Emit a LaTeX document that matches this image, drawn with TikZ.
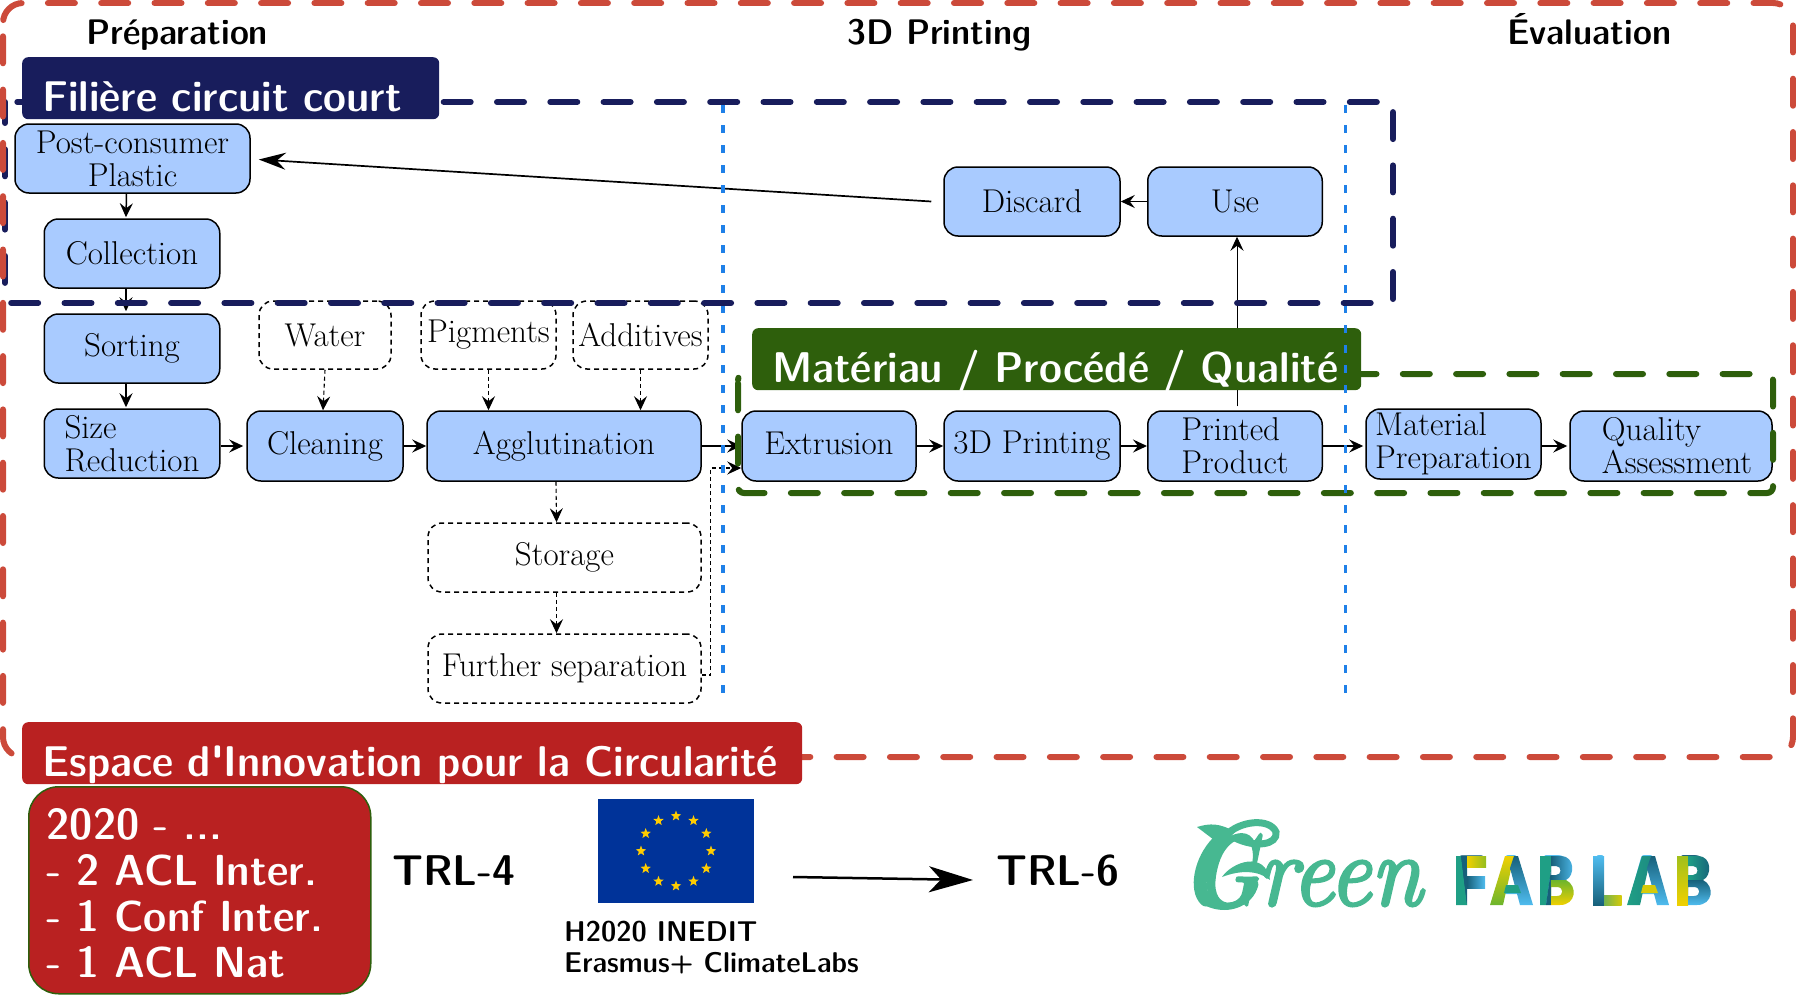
\documentclass[tikz,border=0pt]{standalone}
\usepackage{fontspec}
\setmainfont{Latin Modern Roman}
\setsansfont{Latin Modern Sans}
\newfontfamily\demifont{Latin Modern Sans Demi Cond}[Ligatures=TeXOff, FakeStretch=1.12]
\usepackage{xcolor}
\usetikzlibrary{shapes, shapes.geometric, arrows.meta, positioning, calc}
\definecolor{boxblue}{HTML}{A9CBFF}
\definecolor{framenavy}{HTML}{181D5C}
\definecolor{framegreen}{HTML}{2E5F0C}
\definecolor{framered}{HTML}{CC4A3A}
\definecolor{titlered}{HTML}{B92121}
\definecolor{dotblue}{HTML}{1F80E8}
\definecolor{logogreen}{HTML}{47B891}
\definecolor{logoteal}{HTML}{1F9F85}
\definecolor{logodark}{HTML}{17607A}
\definecolor{logosky}{HTML}{4FBCEF}
\definecolor{logoyellow}{HTML}{F0D000}
\definecolor{logolime}{HTML}{6CB52D}
\definecolor{euflag}{HTML}{003399}
\definecolor{eustar}{HTML}{FFCC00}
\tikzset{
  nodetext/.style={font=\fontsize{33}{33}\selectfont\rmfamily},
  procbox/.style={rectangle, draw, fill=boxblue, rounded corners=14pt, line width=1.5pt, inner sep=0pt, align=left, nodetext},
  optbox/.style={rectangle, draw, dash pattern=on 5pt off 4pt, rounded corners=14pt, line width=1.5pt, inner sep=0pt, align=center, nodetext},
  bandtitle/.style={rectangle, rounded corners=6pt, inner xsep=20pt, inner ysep=0pt, anchor=north west, text=white, align=left, text height=54.5pt, text depth=7.5pt, font=\fontsize{43}{44}\selectfont\demifont},
  phasetitle/.style={anchor=base west, inner sep=0pt, font=\fontsize{35.5}{36}\selectfont\demifont},
  trltext/.style={anchor=base west, inner sep=0pt, font=\fontsize{43}{44}\selectfont\demifont},
  framedash/.style={line width=6pt, line cap=round, dash pattern=on 27pt off 26.3pt},
  flow/.style={->, line width=1.5pt},
  optflow/.style={->, line width=1.1pt, dash pattern=on 4pt off 3pt},
  logoletter/.style={inner sep=0pt, font=\fontsize{72}{72}\selectfont\sffamily\bfseries},
}
% the two bowls of the logo's B
\newcommand{\logobowls}[5]{
  \shade[left color=#2, right color=#3, even odd rule] (#1+11,856) -- (#1+21,856) .. controls (#1+35,856) and (#1+35,876) .. (#1+26,880) -- (#1+11,880) -- cycle
    (#1+11,866) -- (#1+16,866) .. controls (#1+22,866) and (#1+22,875) .. (#1+16,875) -- (#1+11,875) -- cycle;
  \shade[top color=#4, bottom color=#5, even odd rule] (#1+11,880) -- (#1+26,880) .. controls (#1+38,886) and (#1+36,905) .. (#1+20,905) -- (#1+11,905) -- cycle
    (#1+11,887) -- (#1+17,887) .. controls (#1+24,887) and (#1+24,896) .. (#1+17,896) -- (#1+11,896) -- cycle;
}
\begin{document}
\begin{tikzpicture}[x=1pt, y=-1pt, node distance=95pt, >={Stealth[length=14pt, width=13pt, inset=5pt]}]
  \useasboundingbox (0,0) rectangle (1796,998);

  % process nodes
  \node[procbox, minimum width=235pt, minimum height=69pt, align=center] (post) at (132.5,158.5) {Post-consumer\\Plastic};
  \node[procbox, minimum width=175.5pt, minimum height=69pt, align=center] (collection) at (132,253.5) {Collection};
  \node[procbox, minimum width=175.5pt, minimum height=69pt, align=center, below of=collection] (sorting) {Sorting};
  \node[procbox, minimum width=175.5pt, minimum height=69pt, below of=sorting] (sizered) {Size\\Reduction};
  \node[procbox, minimum width=156pt, minimum height=70pt, align=center] (cleaning) at (325,446) {Cleaning};
  \node[procbox, minimum width=274pt, minimum height=70pt, align=center] (agglu) at (564,446) {Agglutination};
  \node[procbox, minimum width=174pt, minimum height=70pt, align=center, text depth=5pt] (extrusion) at (829,446) {Extrusion};
  \node[procbox, minimum width=176pt, minimum height=70pt, align=center] (printing) at (1032,446) {3D Printing};
  \node[procbox, minimum width=174.5pt, minimum height=70pt] (printed) at (1235,446) {Printed\\Product};
  \node[procbox, minimum width=175pt, minimum height=70pt] (material) at (1453.5,444) {Material\\Preparation};
  \node[procbox, minimum width=202pt, minimum height=70pt] (quality) at (1671,446) {\hspace*{12pt}Quality\\\hspace*{12pt}Assessment};
  \node[procbox, minimum width=176pt, minimum height=69pt, align=center] (discard) at (1032,201.5) {Discard};
  \node[procbox, minimum width=174.5pt, minimum height=69pt, align=center] (use) at (1235,201.5) {Use};

  % optional steps
  \node[optbox, minimum width=132pt, minimum height=68pt] (water) at (325,335) {Water};
  \node[optbox, minimum width=135pt, minimum height=68pt] (pigments) at (488.5,335) {Pigments};
  \node[optbox, minimum width=135pt, minimum height=68pt] (additives) at (640.5,335) {Additives};
  \node[optbox, minimum width=273pt, minimum height=69pt] (storage) at (564.5,557.5) {Storage};
  \node[optbox, minimum width=273pt, minimum height=69pt, below of=storage, node distance=111pt] (further) {Further separation};

  % connectors
  \draw[flow] ([xshift=-6pt]post.south) -- ([xshift=-6pt,yshift=1pt]collection.north);
  \draw[flow] ([xshift=-6pt]collection.south) -- ([xshift=-6pt,yshift=2pt]sorting.north);
  \draw[flow] ([xshift=-6pt]sorting.south) -- ([xshift=-6pt,yshift=1pt]sizered.north);
  \draw[flow] ([yshift=-2.5pt]sizered.east) -- ([xshift=-3pt]cleaning.west);
  \draw[flow] (cleaning) -- (agglu);
  \draw[flow] (agglu) -- (extrusion);
  \draw[flow] (extrusion) -- (printing);
  \draw[flow] (printing) -- (printed);
  \draw[flow] (printed.east) -- ([xshift=-2pt,yshift=-2pt]material.west);
  \draw[flow] ([yshift=-2pt]material.east) -- ([xshift=-2pt]quality.west);
  \draw[flow, line width=1pt] ([xshift=2pt,yshift=4pt]printed.north) -- ([xshift=2pt]use.south);
  \draw[flow] (use) -- (discard);
  \draw[->, line width=1.7pt, >={Stealth[length=27pt, width=17pt, inset=9pt]}] ([xshift=-12pt]discard.west) -- ([xshift=8pt,yshift=-1pt]post.east);
  \draw[optflow] (water.south) -- ([xshift=-2pt]cleaning.north);
  \draw[optflow] (pigments) -- (pigments |- agglu.north);
  \draw[optflow] (additives) -- (additives |- agglu.north);
  \draw[optflow] ([xshift=-8pt]agglu.south) -- ([xshift=-8pt]storage.north);
  \draw[optflow] ([xshift=-8pt]storage.south) -- ([xshift=-8pt]further.north);
  \draw[optflow] ([yshift=-6.5pt]further.east) -| ++(9,-207) -- ([yshift=-22pt]extrusion.west);

  % frames and bands
  \draw[framegreen, framedash, rounded corners=6pt, dash phase=50pt] (738,374) rectangle (1773,493);
  \node[bandtitle, fill=framegreen, text width=569pt] (bandgreen) at (752,328) {Matériau / Procédé / Qualité};
  \draw[dotblue, line width=3.5pt, dash pattern=on 8pt off 12pt] (723,105) -- (723,694);
  \draw[dotblue, line width=3.5pt, dash pattern=on 8pt off 12pt] (1345.5,105) -- (1345.5,694);
  \draw[framenavy, framedash, dash phase=6pt] (5,102) rectangle (1393,303);
  \draw[framered, framedash, rounded corners=20pt, dash phase=40pt] (3,3) rectangle (1793,757);
  \node[bandtitle, fill=framenavy, text width=377pt] (bandnavy) at (22,57) {Filière circuit court};
  \node[bandtitle, fill=titlered, text width=740pt] (bandred) at (22,722) {Espace d'Innovation pour la Circularité};

  % phases
  \node[phasetitle] (prep) at (86,44.5) {Préparation};
  \node[phasetitle] (print) at (847,44.5) {3D Printing};
  \node[phasetitle] (eval) at (1507,44.5) {Évaluation};

  % bottom row
  \node[rectangle, draw=framegreen, line width=1.5pt, fill=titlered, rounded corners=30pt, anchor=north west, minimum width=342pt, minimum height=207pt, text width=306pt, text=white, align=left, inner xsep=18pt, inner ysep=0pt, font=\fontsize{43.5}{46}\selectfont\demifont] (pubs) at (28,786) {\rule{0pt}{36pt}2020 - ...\\- 2 ACL Inter.\\- 1 Conf Inter.\\- 1 ACL Nat};
  \node[trltext] (trlfour) at (392,885) {TRL-4};
  \node[rectangle, fill=euflag, minimum width=156pt, minimum height=104pt, inner sep=0pt] (flag) at (676,851) {};
  \foreach \a in {0,30,...,330}
    \node[star, star points=5, star point ratio=2.4, fill=eustar, inner sep=0pt, minimum size=11pt] (eustar\a) at ({676+35*cos(\a)},{851+35*sin(\a)}) {};
  \node[anchor=base west, inner sep=0pt, align=left, font=\fontsize{28.6}{30.5}\selectfont\demifont] (funding) at (564,972) {H2020 INEDIT\\Erasmus+ ClimateLabs};
  \node[trltext] (trlsix) at (996,885) {TRL-6};
  \coordinate (fundout) at (793,877);
  \coordinate (fundin) at (973,880);
  \draw[->, line width=2.5pt, >={Stealth[length=44pt, width=26pt, inset=12pt]}] (fundout) -- (fundin);

  % logos
  \node[anchor=base west, inner sep=0pt, text=logogreen, font=\fontsize{100}{100}\selectfont\rmfamily\itshape\addfontfeatures{FakeBold=3}] (green) at (1195,905) {\scalebox{.83}[1]{G}\scalebox{.93}[1]{reen}};
  \fill[logogreen] (1197,827) .. controls (1210,823) and (1220,823) .. (1235,832) -- (1222,846) -- cycle;
  \draw[logogreen, line width=7pt, line cap=round] (1225,836) .. controls (1240,820) and (1270,818) .. (1276,832) .. controls (1278,845) and (1255,848) .. (1235,838);
  \draw[logogreen, line width=13pt, line cap=round] (1218,842) .. controls (1200,860) and (1195,890) .. (1206,900);
  \draw[logogreen, line width=7pt, line cap=round] (1206,902) .. controls (1225,912) and (1250,905) .. (1255,884);
  \fill[logogreen] (1222,877) .. controls (1232,862) and (1265,850) .. (1270,880) .. controls (1258,870) and (1240,870) .. (1222,877) -- cycle;
  \node[logoletter, text=logodark] (fabf) at (1471,880.5) {\scalebox{.7}[1]{F}};
  \node[logoletter, text=logosky] (faba) at (1511.5,880.5) {\scalebox{.8}[1]{A}};
  \node[logoletter, text=logosky] (fabb) at (1556.5,880.5) {\scalebox{.62}[1]{B}};
  \node[logoletter, text=logosky] (labl) at (1607,880.5) {\scalebox{.68}[1]{L}};
  \node[logoletter, text=logosky] (laba) at (1648,880.5) {\scalebox{.8}[1]{A}};
  \node[logoletter, text=logodark] (labb) at (1694,880.5) {\scalebox{.62}[1]{B}};
  % F
  \fill[logoteal] (1456,856) -- (1461,856) -- (1467,905) -- (1456,905) -- cycle;
  \fill[logodark] (1461,856) -- (1467,856) -- (1467,905) -- cycle;
  \shade[left color=logoyellow, right color=logolime!70!logoyellow] (1467,856) rectangle (1486,867);
  \shade[left color=logodark, right color=logosky] (1467,876) rectangle (1485,888);
  % A
  \shade[top color=logoyellow, bottom color=logolime] (1505,856) -- (1514,856) -- (1503,905) -- (1490,905) -- cycle;
  \shade[top color=logodark, bottom color=logosky] (1514,856) -- (1518,856) -- (1533,905) -- (1520,905) -- (1510,868) -- cycle;
  \fill[logoteal] (1506,885) -- (1518,885) -- (1521,893) -- (1504,893) -- cycle;
  % B
  \fill[logoteal] (1540,856) -- (1551,856) -- (1551,870) -- (1546,905) -- (1540,905) -- cycle;
  \fill[logodark] (1551,870) -- (1551,905) -- (1546,905) -- cycle;
  \logobowls{1540}{logodark}{logosky}{logolime}{logoyellow}
  % L
  \shade[top color=logosky, bottom color=logodark] (1593,856) -- (1604,856) -- (1604,905) -- (1593,905) -- cycle;
  \shade[left color=logoteal!60!logoyellow, right color=logoyellow!80!logolime] (1604,895) -- (1621.5,895) -- (1621.5,905) -- (1604,905) -- cycle;
  % A
  \shade[left color=logoteal, right color=logoteal!70!logodark] (1642,856) -- (1651,856) -- (1640,905) -- (1627,905) -- cycle;
  \shade[top color=logodark, bottom color=logosky] (1651,856) -- (1655,856) -- (1669,905) -- (1657,905) -- (1647,868) -- cycle;
  \fill[logoyellow!80!logolime] (1643,885) -- (1655,885) -- (1658,893) -- (1641,893) -- cycle;
  % B
  \shade[top color=logolime!60!logoyellow, bottom color=logoyellow] (1677,856) -- (1688,856) -- (1688,905) -- (1677,905) -- cycle;
  \logobowls{1677}{logoteal}{logodark}{logodark}{logosky}
\end{tikzpicture}
\end{document}
